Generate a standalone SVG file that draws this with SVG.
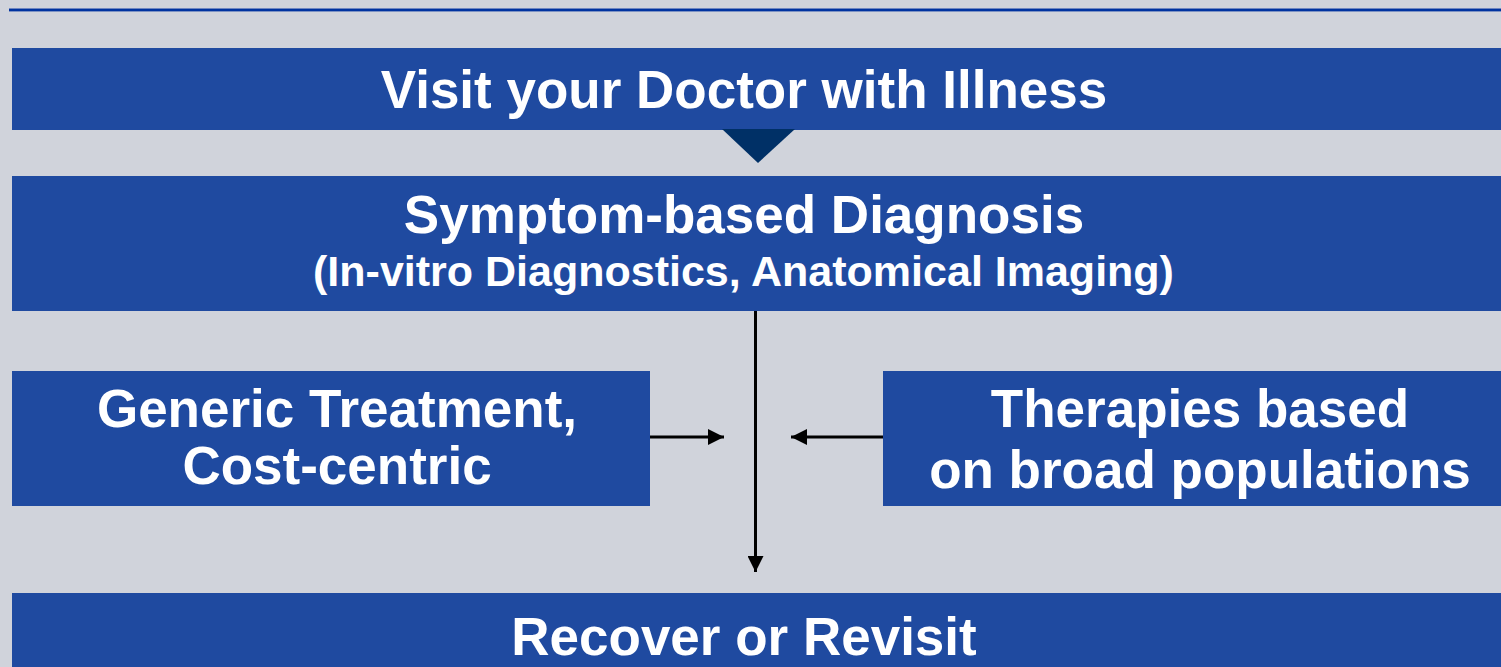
<svg xmlns="http://www.w3.org/2000/svg" width="1501" height="667" viewBox="0 0 1501 667">
<style>
.box{fill:#1F4AA0}
.t{font-family:"Liberation Sans",Arial,sans-serif;font-weight:bold;fill:#fff;text-anchor:middle}
.c{stroke:#000;stroke-width:3;fill:none}
</style>
<defs>
<marker id="ah" viewBox="0 0 10 10" refX="10" refY="5" markerWidth="16" markerHeight="16" markerUnits="userSpaceOnUse" orient="auto">
<path d="M0,0 L10,5 L0,10 Z" fill="#000"/>
</marker>
</defs>
<rect width="1501" height="667" fill="#D0D3DB"/>
<rect x="9" y="8" width="1492" height="1.3" fill="#6F86C0"/>
<rect x="9" y="9" width="1492" height="2.4" fill="#0033A0"/>
<g id="n1"><rect class="box" x="12" y="48" width="1489" height="82"/><text class="t" x="744" y="108" font-size="53">Visit your Doctor with Illness</text></g>
<g id="tri"><polygon points="722,129 795,129 758,163" fill="#003066"/></g>
<g id="n2"><rect class="box" x="12" y="176" width="1489" height="135"/><text class="t" x="744" y="233" font-size="53">Symptom-based Diagnosis</text><text class="t" x="743.5" y="286" font-size="43">(In-vitro Diagnostics, Anatomical Imaging)</text></g>
<g id="n3"><rect class="box" x="12" y="371" width="638" height="135"/><text class="t" x="337" y="427" font-size="53">Generic Treatment,</text><text class="t" x="337" y="484" font-size="53">Cost-centric</text></g>
<g id="n4"><rect class="box" x="883" y="371" width="618" height="135"/><text class="t" x="1200" y="427" font-size="53">Therapies based</text><text class="t" x="1200" y="488" font-size="53">on broad populations</text></g>
<g id="n5"><rect class="box" x="12" y="593" width="1489" height="74"/><text class="t" x="744" y="655" font-size="53">Recover or Revisit</text></g>
<g id="connectors">
<line class="c" x1="755.5" y1="311" x2="755.5" y2="572" marker-end="url(#ah)"/>
<line class="c" x1="650" y1="437" x2="724" y2="437" marker-end="url(#ah)"/>
<line class="c" x1="883" y1="437" x2="791" y2="437" marker-end="url(#ah)"/>
</g>
</svg>
